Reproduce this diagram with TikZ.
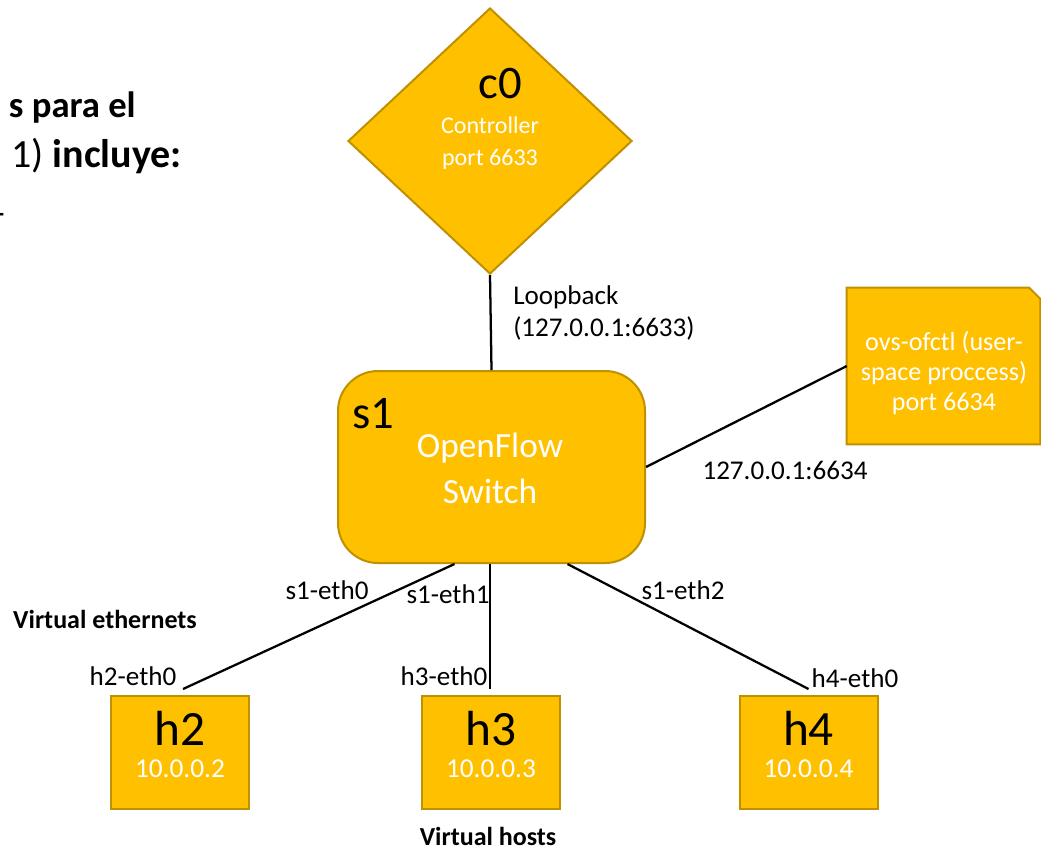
\documentclass[tikz,border=0pt]{standalone}
\usepackage{fontspec}
\setmainfont{Carlito}
\usetikzlibrary{shapes.geometric,calc}
\definecolor{gold}{HTML}{FFC000}
\definecolor{goldline}{HTML}{BF9000}
\newcommand{\fs}[2]{\fontsize{#1}{#2}\selectfont}
\tikzset{
  boxstyle/.style={fill=gold,draw=goldline,line width=1.5pt,inner sep=0pt},
  link/.style={draw=black,line width=1.7pt},
  bigname/.style={text=black,font=\fs{35pt}{40pt},inner sep=0pt,anchor=base},
  whitetxt/.style={text=white,inner sep=0pt,anchor=base},
  lbl/.style={text=black,font=\fs{20.3pt}{24pt},inner sep=0pt},
  note/.style={text=black,font=\fs{19.5pt}{24pt}\bfseries,inner sep=0pt},
}
\begin{document}
\begin{tikzpicture}[x=0.75pt,y=-0.75pt]
\useasboundingbox (0,0) rectangle (1041,851);
\clip (0,0) rectangle (1041,851);
\fill[white] (0,0) rectangle (1041,851);

% cut-off slide text
\node[anchor=base east,inner sep=0pt,font=\fs{27.5pt}{32pt}\bfseries] (t1) at (136,117) {s para el};
\node[anchor=base east,inner sep=0pt,font=\fs{30pt}{36pt}] (t2) at (182,167) {1) \textbf{incluye:}};
\node[anchor=base east,inner sep=0pt,font=\fs{26pt}{32pt}] (t3) at (5,224) {-};

% controller
\node[boxstyle,shape=diamond,minimum width=284*0.75pt,minimum height=266*0.75pt] (c0) at (490,141) {};
\node[bigname] (c0n) at (500,98) {c0};
\node[whitetxt,font=\fs{18pt}{24pt}] (c0a) at (490,133) {Controller};
\node[whitetxt,font=\fs{18pt}{24pt}] (c0b) at (490,165) {port 6633};

% switch
\node[boxstyle,rectangle,rounded corners=30pt,minimum width=307*0.75pt,minimum height=192*0.75pt] (s1) at (491.5,467) {};
\node[bigname] (s1n) at (373,428) {s1};
\node[whitetxt,font=\fs{26.5pt}{34pt}] (s1a) at (490,457) {OpenFlow};
\node[whitetxt,font=\fs{26.5pt}{34pt}] (s1b) at (490,503) {Switch};

% ovs-ofctl
\node[inner sep=0pt,rectangle,minimum width=193*0.75pt,minimum height=156*0.75pt] (ovs) at (943.5,366) {};
\path[boxstyle] (ovs.south west) -- (ovs.north west) -- ($(ovs.north east)+(-11,0)$) -- ($(ovs.north east)+(0,11)$) -- (ovs.south east) -- cycle;
\node[whitetxt,font=\fs{19.6pt}{23pt}] (ovsa) at (944,350) {ovs-ofctl (user-};
\node[whitetxt,font=\fs{19.6pt}{23pt}] (ovsb) at (944,380) {space proccess)};
\node[whitetxt,font=\fs{19.6pt}{23pt}] (ovsc) at (944,410) {port 6634};

% hosts
\foreach \n/\x/\ip in {h2/180/10.0.0.2, h3/491/10.0.0.3, h4/808.5/10.0.0.4}{
  \node[boxstyle,rectangle,minimum width=138*0.75pt,minimum height=113*0.75pt] (\n) at (\x,752.5) {};
  \node[bigname,font=\fs{37pt}{42pt}] (\n n) at (\x,745) {\n};
  \node[whitetxt,font=\fs{20.5pt}{24pt}] (\n ip) at (\x,777) {\ip};
}

% connectors
\draw[link] (c0.south) -- (s1.north);
\draw[link] (s1.east) -- (ovs.west);
\draw[link] ($(s1.south)+(-37,0)$) -- ($(h2.north)+(3,-6)$);
\draw[link] ($(s1.south)+(-1.5,0)$) -- ($(h3.north)+(-1,-6)$);
\draw[link] ($(s1.south)+(76,0)$) -- ($(h4.north)+(0,-6)$);

% labels
\node[lbl,anchor=west,align=left] (lb) at (513,313) {Loopback\\(127.0.0.1:6633)};
\node[lbl] (l6634) at (785,470) {127.0.0.1:6634};
\node[lbl] (e0) at (327,590) {s1-eth0};
\node[lbl] (e1) at (448,594) {s1-eth1};
\node[lbl] (e2) at (683,590) {s1-eth2};
\node[lbl] (he2) at (133,676) {h2-eth0};
\node[lbl] (he3) at (444,676) {h3-eth0};
\node[lbl] (he4) at (855,678) {h4-eth0};
\node[note] (ve) at (105,619) {Virtual ethernets};
\node[note] (vh) at (488,836) {Virtual hosts};
\end{tikzpicture}
\end{document}
